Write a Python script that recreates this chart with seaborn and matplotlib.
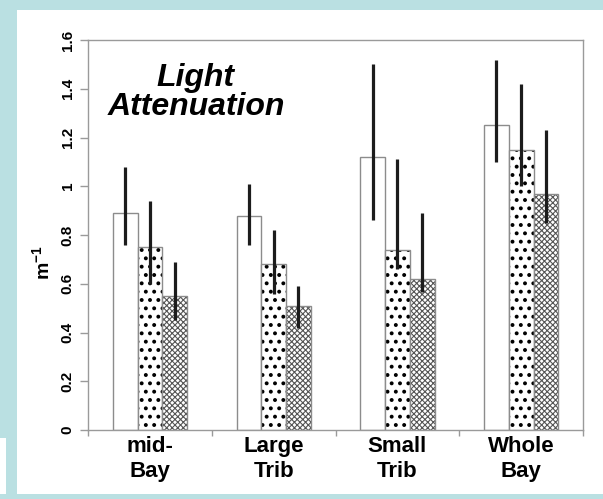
import numpy as np
import pandas as pd
import matplotlib
matplotlib.use("Agg")
import matplotlib.pyplot as plt
import matplotlib.colors as mcolors
from matplotlib.patches import Rectangle
from matplotlib.ticker import FixedLocator, FuncFormatter
import seaborn as sns

# ---- data ----
categories = ["mid-\nBay", "Large\nTrib", "Small\nTrib", "Whole\nBay"]
series = ["Period 1", "Period 2", "Period 3"]
values_1 = [0.89, 0.88, 1.12, 1.25]
values_2 = [0.75, 0.68, 0.74, 1.15]
values_3 = [0.55, 0.51, 0.62, 0.97]
low_1 = [0.76, 0.76, 0.86, 1.10]
high_1 = [1.08, 1.01, 1.50, 1.52]
low_2 = [0.60, 0.56, 0.66, 1.00]
high_2 = [0.94, 0.82, 1.11, 1.42]
low_3 = [0.45, 0.42, 0.565, 0.85]
high_3 = [0.69, 0.59, 0.89, 1.23]
y_ticks = [0, 0.2, 0.4, 0.6, 0.8, 1.0, 1.2, 1.4, 1.6]
title_text = "Light\nAttenuation"
y_label = r"$\mathbf{m^{-1}}$"

values = [values_1, values_2, values_3]
lows = [low_1, low_2, low_3]
highs = [high_1, high_2, high_3]

rows = []
for s, vals in zip(series, values):
    for c, v in zip(categories, vals):
        rows.append({"category": c, "series": s, "value": v})
df = pd.DataFrame(rows)

# ---- style ----
sns.set_theme(style="white")
plt.rcParams["font.family"] = ["Liberation Sans", "DejaVu Sans"]
plt.rcParams["mathtext.fontset"] = "custom"
plt.rcParams["mathtext.bf"] = "Liberation Sans:bold"
plt.rcParams["mathtext.rm"] = "Liberation Sans"
plt.rcParams["hatch.linewidth"] = 0.7
for k in ["text.color", "axes.labelcolor", "xtick.labelcolor", "ytick.labelcolor"]:
    plt.rcParams[k] = "black"

W, H = 603, 499
fig = plt.figure(figsize=(W / 100, H / 100), dpi=100)
fig.patch.set_facecolor("white")

band = "#bae0e2"
fig.patches.append(Rectangle((0, 0), 17 / W, 1, transform=fig.transFigure,
                             facecolor=band, edgecolor="none", zorder=0))
fig.patches.append(Rectangle((0, 0), 6 / W, 61 / H, transform=fig.transFigure,
                             facecolor="white", edgecolor="none", zorder=0))
fig.patches.append(Rectangle((0, 1 - 10 / H), 1, 10 / H, transform=fig.transFigure,
                             facecolor=band, edgecolor="none", zorder=0))
fig.patches.append(Rectangle((0, 0), 1, 5 / H, transform=fig.transFigure,
                             facecolor=band, edgecolor="none", zorder=0))

ax = fig.add_axes([88 / W, (H - 430) / H, (583 - 88) / W, (430 - 40) / H])
ax.set_facecolor("white")

sns.barplot(data=df, x="category", y="value", hue="series", order=categories,
            hue_order=series, palette=["white"] * 3, width=0.6, errorbar=None,
            edgecolor="#8c8c8c", linewidth=1.0, legend=False, ax=ax, zorder=2)

hatches = [None, "..", "xxxxxx"]
hatch_cols = ["black", "black", "#555555"]
hatch_lws = [0.7, 1.6, 0.8]
for i, cont in enumerate(ax.containers):
    for j, p in enumerate(cont.patches):
        p.set_facecolor("white")
        p.set_edgecolor("#8c8c8c")
        if hatches[i]:
            p.set_hatch(hatches[i])
            if hasattr(p, "set_hatchcolor"):
                p.set_hatchcolor(hatch_cols[i])
            else:
                p._hatch_color = mcolors.to_rgba(hatch_cols[i])
            if hasattr(p, "set_hatch_linewidth"):
                p.set_hatch_linewidth(hatch_lws[i])
            else:
                p._hatch_linewidth = hatch_lws[i]
        xc = p.get_x() + p.get_width() / 2
        ax.vlines(xc, lows[i][j], highs[i][j], color="#1c1c1c", linewidth=2.3, zorder=3)

ax.set_xlim(-0.5, 3.5)
ax.set_ylim(0, 1.6)

for sp in ax.spines.values():
    sp.set_visible(True)
    sp.set_color("#9a9a9a")
    sp.set_linewidth(1.0)

ax.yaxis.set_major_locator(FixedLocator(y_ticks))
ax.yaxis.set_major_formatter(FuncFormatter(lambda v, pos: "%g" % v))
ax.tick_params(axis="y", which="major", direction="out", length=6, width=1.0,
               color="#9a9a9a", pad=3.5, labelsize=11, labelcolor="black",
               left=True, labelrotation=90)
for lbl in ax.get_yticklabels():
    lbl.set_fontweight("bold")
    lbl.set_va("center")
    lbl.set_ha("right")

ax.set_xticks(range(len(categories)))
ax.set_xticklabels(categories, fontsize=16, fontweight="bold", linespacing=1.3,
                   color="black")
ax.xaxis.set_minor_locator(FixedLocator(np.arange(-0.5, len(categories), 1.0)))
ax.tick_params(axis="x", which="major", length=0, pad=4, bottom=True)
ax.tick_params(axis="x", which="minor", direction="out", length=4, width=1.0,
               color="#9a9a9a", bottom=True)
ax.set_xlabel("")

ax.set_ylabel(y_label, fontsize=14, color="black")
ax.yaxis.set_label_coords(-0.07, 0.43)

ax.text(0.218, 0.865, title_text, transform=ax.transAxes, ha="center", va="center",
        fontsize=23, fontweight="bold", fontstyle="italic", linespacing=0.95,
        color="black", zorder=5)

fig.savefig("out.png", dpi=100, facecolor="white")
